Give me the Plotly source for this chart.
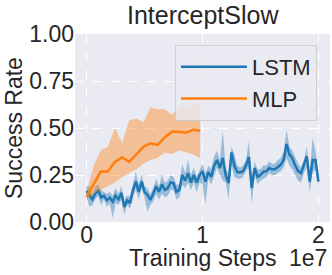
import plotly.graph_objects as go

# ---- data (x in units of 1e7 training steps) ----
lstm_x = [i * 0.025 for i in range(81)]
lstm_mean = [0.165, 0.14, 0.12, 0.15, 0.17, 0.13, 0.14, 0.115, 0.13, 0.108,
             0.14, 0.12, 0.155, 0.08, 0.115, 0.10, 0.17, 0.215, 0.16, 0.215,
             0.16, 0.145, 0.117, 0.15, 0.19, 0.16, 0.20, 0.17, 0.18, 0.21,
             0.207, 0.16, 0.17, 0.25, 0.22, 0.26, 0.21, 0.25, 0.21, 0.25,
             0.27, 0.215, 0.265, 0.24, 0.30, 0.33, 0.287, 0.34, 0.25, 0.207,
             0.37, 0.30, 0.265, 0.265, 0.27, 0.30, 0.345, 0.18, 0.287, 0.24,
             0.25, 0.267, 0.27, 0.287, 0.28, 0.28, 0.29, 0.304, 0.33, 0.415,
             0.36, 0.34, 0.30, 0.27, 0.26, 0.30, 0.35, 0.215, 0.33, 0.33, 0.215]
lstm_hi = [0.19, 0.19, 0.15, 0.19, 0.20, 0.17, 0.16, 0.15, 0.16, 0.14,
           0.18, 0.15, 0.19, 0.12, 0.14, 0.14, 0.20, 0.27, 0.20, 0.25,
           0.19, 0.18, 0.15, 0.18, 0.23, 0.19, 0.25, 0.21, 0.22, 0.25,
           0.24, 0.20, 0.20, 0.31, 0.26, 0.33, 0.25, 0.29, 0.24, 0.28,
           0.31, 0.26, 0.30, 0.28, 0.35, 0.38, 0.33, 0.49, 0.29, 0.25,
           0.40, 0.36, 0.30, 0.29, 0.30, 0.33, 0.43, 0.24, 0.32, 0.28,
           0.28, 0.30, 0.30, 0.32, 0.31, 0.31, 0.33, 0.34, 0.37, 0.49,
           0.40, 0.38, 0.34, 0.31, 0.29, 0.33, 0.40, 0.26, 0.45, 0.38, 0.24]
lstm_lo = [0.13, 0.08, 0.09, 0.12, 0.14, 0.09, 0.12, 0.08, 0.10, 0.02,
           0.10, 0.09, 0.12, 0.04, 0.09, 0.07, 0.13, 0.17, 0.12, 0.18,
           0.13, 0.055, 0.09, 0.11, 0.15, 0.12, 0.15, 0.13, 0.14, 0.17,
           0.17, 0.12, 0.13, 0.20, 0.18, 0.21, 0.17, 0.21, 0.16, 0.21,
           0.20, 0.095, 0.23, 0.20, 0.25, 0.29, 0.25, 0.22, 0.21, 0.12,
           0.30, 0.24, 0.23, 0.23, 0.24, 0.27, 0.29, 0.095, 0.25, 0.20,
           0.22, 0.23, 0.24, 0.26, 0.25, 0.25, 0.26, 0.27, 0.29, 0.34,
           0.30, 0.28, 0.25, 0.22, 0.21, 0.26, 0.29, 0.16, 0.26, 0.28, 0.19]

mlp_x = [i * 0.06125 for i in range(17)]
mlp_mean = [0.135, 0.20, 0.268, 0.268, 0.32, 0.345, 0.32, 0.36, 0.40, 0.418,
            0.41, 0.45, 0.48, 0.48, 0.475, 0.49, 0.485]
mlp_hi = [0.16, 0.30, 0.38, 0.40, 0.50, 0.42, 0.54, 0.55, 0.53, 0.61,
          0.60, 0.60, 0.57, 0.61, 0.62, 0.63, 0.63]
mlp_lo = [0.12, 0.15, 0.17, 0.19, 0.21, 0.24, 0.26, 0.28, 0.31, 0.33,
          0.34, 0.37, 0.36, 0.38, 0.37, 0.36, 0.34]

SCALE = 1e7
BLUE = "#1f77b4"
ORANGE = "#ff7f0e"
FONT = "Liberation Sans, Arial, sans-serif"
TXT = "#262626"

# plot area in pixels
L, R, T, B = 75, 330, 34, 222
W, H = 332, 275


def band(xs, lo, hi, color):
    xx = [v * SCALE for v in xs]
    return go.Scatter(x=xx + xx[::-1], y=hi + lo[::-1], fill="toself",
                      fillcolor=color, line=dict(width=0), mode="lines",
                      hoverinfo="skip", showlegend=False)


def px_x(p):
    return (p - L) / (R - L)


def px_y(p):
    return (B - p) / (B - T)


fig = go.Figure()
fig.add_trace(band(lstm_x, lstm_lo, lstm_hi, "rgba(31,119,180,0.4)"))
fig.add_trace(go.Scatter(x=[v * SCALE for v in lstm_x], y=lstm_mean, mode="lines",
                         name="LSTM", line=dict(color=BLUE, width=2.5)))
fig.add_trace(band(mlp_x, mlp_lo, mlp_hi, "rgba(255,127,14,0.4)"))
fig.add_trace(go.Scatter(x=[v * SCALE for v in mlp_x], y=mlp_mean, mode="lines",
                         name="MLP", line=dict(color=ORANGE, width=2.5)))

fig.update_layout(
    width=W, height=H,
    margin=dict(l=L, r=W - R, t=T, b=H - B, autoexpand=False),
    paper_bgcolor="white", plot_bgcolor="#EAEAF2",
    font=dict(family=FONT, size=23, color=TXT),
    showlegend=True,
    legend=dict(x=px_x(317), xanchor="right", y=px_y(45), yanchor="top",
                itemwidth=66,
                bgcolor="rgba(234,234,242,0.8)", bordercolor="rgba(204,204,204,0.9)",
                borderwidth=1, font=dict(size=22, color=TXT)),
    xaxis=dict(range=[-0.1 * SCALE, 2.1 * SCALE], tickvals=[0, SCALE, 2 * SCALE],
               ticktext=["0", "1", "2"], showgrid=True, gridcolor="white",
               griddash="dash", gridwidth=1, zeroline=False, showline=False,
               ticks="", tickfont=dict(size=23, color=TXT), automargin=False,
               ticklabelstandoff=-3),
    yaxis=dict(range=[0, 1], tickvals=[0, 0.25, 0.5, 0.75, 1.0],
               ticktext=["0.00", "0.25", "0.50", "0.75", "1.00"], showgrid=True,
               gridcolor="white", griddash="dash", gridwidth=1, zeroline=False,
               showline=False, ticks="", tickfont=dict(size=23, color=TXT),
               automargin=False),
    annotations=[
        dict(text="InterceptSlow", xref="paper", yref="paper", x=0.5, y=px_y(15),
             xanchor="center", yanchor="middle", showarrow=False,
             font=dict(size=25, color=TXT)),
        dict(text="Success Rate", xref="paper", yref="paper", x=px_x(14), y=0.5,
             xanchor="center", yanchor="middle", showarrow=False, textangle=-90,
             font=dict(size=23, color=TXT)),
        dict(text="Training Steps", xref="paper", yref="paper", x=0.5, y=px_y(258),
             xanchor="center", yanchor="middle", showarrow=False,
             font=dict(size=23, color=TXT)),
        dict(text="1e7", xref="paper", yref="paper", x=px_x(329), y=px_y(258),
             xanchor="right", yanchor="middle", showarrow=False,
             font=dict(size=23, color=TXT)),
    ],
)

fig.write_html("out.html", config={"displayModeBar": False})

# remove the browser's default page margin so the figure sits at (0, 0)
with open("out.html", encoding="utf-8") as f:
    html = f.read()
html = html.replace("<head>", "<head><style>html,body{margin:0;padding:0;overflow:hidden;}</style>", 1)
with open("out.html", "w", encoding="utf-8") as f:
    f.write(html)
